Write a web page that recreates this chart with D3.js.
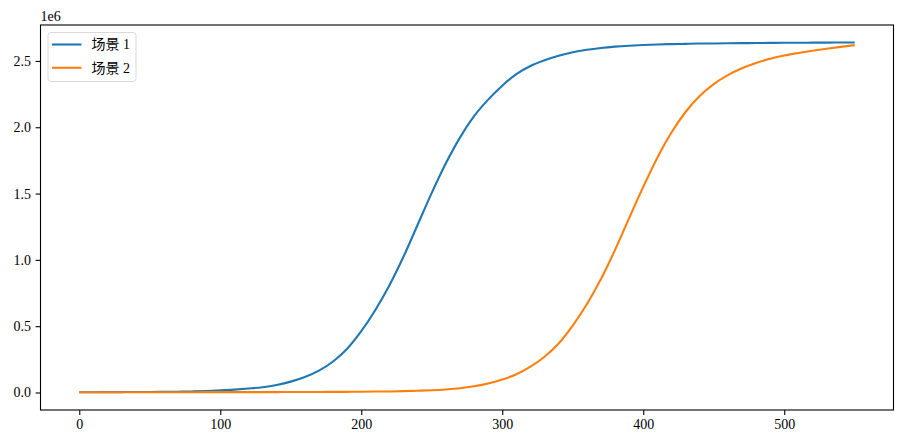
<!DOCTYPE html>
<html>
<head>
<meta charset="utf-8">
<script src="https://cdn.jsdelivr.net/npm/d3@7"></script>
<style>
  body { margin: 0; background: #fff; }
  text { font-family: "Liberation Serif", "Noto Sans CJK SC", serif; }
</style>
</head>
<body>
<svg id="chart" width="902" height="446"></svg>
<script>
// x values (days), one point every 10
var days = d3.range(0, 551, 10);

// values in millions
var scenario1 = [0.002, 0.002, 0.003, 0.003, 0.004, 0.004, 0.005, 0.006, 0.008, 0.011,
  0.016, 0.022, 0.030, 0.040, 0.057, 0.082, 0.117, 0.165, 0.234, 0.330,
  0.462, 0.622, 0.808, 1.025, 1.265, 1.505, 1.728, 1.922, 2.083, 2.208,
  2.313, 2.401, 2.462, 2.505, 2.539, 2.565, 2.584, 2.598, 2.608, 2.615,
  2.620, 2.624, 2.627, 2.629, 2.631, 2.632, 2.633, 2.634, 2.635, 2.636,
  2.637, 2.637, 2.638, 2.638, 2.639, 2.639];

var scenario2 = [0.002, 0.002, 0.002, 0.002, 0.002, 0.002, 0.002, 0.002, 0.002, 0.003,
  0.003, 0.003, 0.003, 0.003, 0.003, 0.004, 0.004, 0.004, 0.005, 0.005,
  0.006, 0.007, 0.008, 0.010, 0.013, 0.017, 0.023, 0.032, 0.047, 0.068,
  0.098, 0.138, 0.195, 0.270, 0.370, 0.505, 0.665, 0.855, 1.075, 1.315,
  1.550, 1.770, 1.960, 2.115, 2.235, 2.325, 2.393, 2.445, 2.485, 2.516,
  2.541, 2.560, 2.577, 2.592, 2.606, 2.619];

var seriesNames = ["场景 1", "场景 2"];
var colors = ["#1f77b4", "#ff7f0e"];
var xTicks = [0, 100, 200, 300, 400, 500];
var yTicks = [0, 0.5, 1.0, 1.5, 2.0, 2.5];

var series = [scenario1, scenario2].map((vals, i) => ({
  name: seriesNames[i],
  color: colors[i],
  points: days.map((d, j) => ({ x: d, y: vals[j] * 1e6 }))
}));

var plot = { left: 40.5, right: 893.5, top: 25, bottom: 410 };

// matplotlib style 5% margins
var xExt = d3.extent(days);
var xPad = (xExt[1] - xExt[0]) * 0.05;
var allY = series.flatMap(s => s.points.map(p => p.y));
var yExt = [0, d3.max(allY)];
var yPad = (yExt[1] - yExt[0]) * 0.05;

var x = d3.scaleLinear().domain([xExt[0] - xPad, xExt[1] + xPad]).range([plot.left, plot.right]);
var y = d3.scaleLinear().domain([yExt[0] - yPad, yExt[1] + yPad]).range([plot.bottom, plot.top]);

var svg = d3.select("#chart");

// lines
var line = d3.line()
  .x(d => x(d.x))
  .y(d => y(d.y))
  .curve(d3.curveMonotoneX);

svg.append("g").selectAll("path")
  .data(series)
  .enter()
  .append("path")
  .attr("d", d => line(d.points))
  .style("fill", "none")
  .style("stroke", d => d.color)
  .style("stroke-width", 2.1);

// axes
var xAxis = svg.append("g")
  .attr("transform", "translate(0," + plot.bottom + ")")
  .call(d3.axisBottom(x).tickValues(xTicks).tickSize(4.9).tickPadding(4.5).tickFormat(d3.format("d")));

var yAxis = svg.append("g")
  .attr("transform", "translate(" + plot.left + ",0)")
  .call(d3.axisLeft(y).tickValues(yTicks.map(v => v * 1e6)).tickSize(4.9).tickPadding(4.5)
    .tickFormat(d => (d / 1e6).toFixed(1)));

[xAxis, yAxis].forEach(a => {
  a.select(".domain").remove();
  a.selectAll("line").style("stroke", "#000").style("stroke-width", 1.1);
  a.selectAll("text").style("font-size", "14px").style("fill", "#000")
    .style("font-family", "'Liberation Serif', serif");
});

// frame
svg.append("rect")
  .attr("x", plot.left)
  .attr("y", plot.top)
  .attr("width", plot.right - plot.left)
  .attr("height", plot.bottom - plot.top)
  .style("fill", "none")
  .style("stroke", "#000")
  .style("stroke-width", 1.1);

// offset text
svg.append("text")
  .attr("x", plot.left)
  .attr("y", 21)
  .style("font-size", "14px")
  .text("1e6");

// legend
var legend = svg.append("g").attr("transform", "translate(48,32.5)");
legend.append("rect")
  .attr("width", 88)
  .attr("height", 49)
  .attr("rx", 3)
  .style("fill", "#fff")
  .style("fill-opacity", 0.8)
  .style("stroke", "#d9d9d9")
  .style("stroke-width", 1);

var items = legend.selectAll(".item")
  .data(series)
  .enter()
  .append("g")
  .attr("class", "item")
  .attr("transform", (d, i) => "translate(0," + (12 + i * 23.3) + ")");

items.append("line")
  .attr("x1", 4)
  .attr("x2", 33.5)
  .style("stroke", d => d.color)
  .style("stroke-width", 2.1);

items.append("text")
  .attr("x", 43.5)
  .attr("dy", "0.35em")
  .style("font-size", "14px")
  .text(d => d.name);
</script>
</body>
</html>
